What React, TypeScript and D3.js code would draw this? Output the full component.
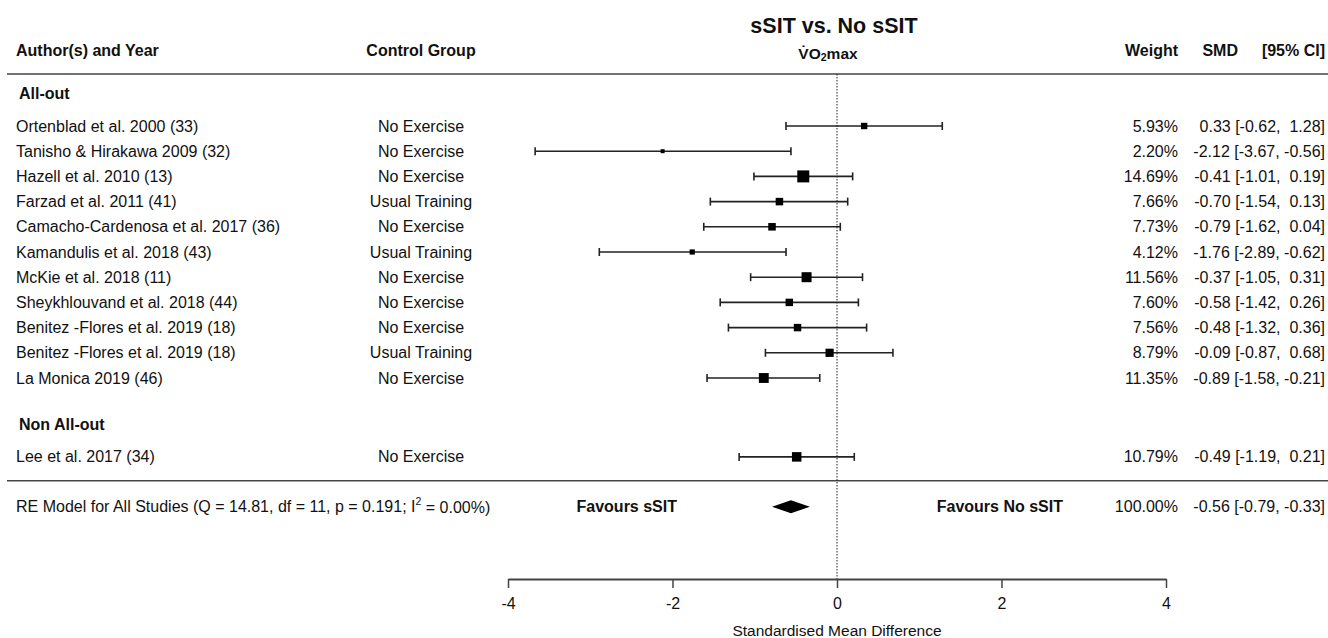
import { useEffect, useRef } from "react";
import { select, scaleLinear, axisBottom, format } from "d3";

const width = 1328;
const height = 638;

// study rows, top to bottom
const authors = [
  "Ortenblad et al. 2000 (33)",
  "Tanisho & Hirakawa 2009 (32)",
  "Hazell et al. 2010 (13)",
  "Farzad et al. 2011 (41)",
  "Camacho-Cardenosa et al. 2017 (36)",
  "Kamandulis et al. 2018 (43)",
  "McKie et al. 2018 (11)",
  "Sheykhlouvand et al. 2018 (44)",
  "Benitez -Flores et al. 2019 (18)",
  "Benitez -Flores et al. 2019 (18)",
  "La Monica 2019 (46)",
  "Lee et al. 2017 (34)",
];
const controls = [
  "No Exercise", "No Exercise", "No Exercise", "Usual Training", "No Exercise",
  "Usual Training", "No Exercise", "No Exercise", "No Exercise", "Usual Training",
  "No Exercise", "No Exercise",
];
const groupOf = [0, 0, 0, 0, 0, 0, 0, 0, 0, 0, 0, 1];
const groupNames = ["All-out", "Non All-out"];
const smd = [0.33, -2.12, -0.41, -0.7, -0.79, -1.76, -0.37, -0.58, -0.48, -0.09, -0.89, -0.49];
const lower = [-0.62, -3.67, -1.01, -1.54, -1.62, -2.89, -1.05, -1.42, -1.32, -0.87, -1.58, -1.19];
const upper = [1.28, -0.56, 0.19, 0.13, 0.04, -0.62, 0.31, 0.26, 0.36, 0.68, -0.21, 0.21];
const weights = [5.93, 2.2, 14.69, 7.66, 7.73, 4.12, 11.56, 7.6, 7.56, 8.79, 11.35, 10.79];

// pooled random-effects estimate
const pooled = { est: -0.56, lo: -0.79, hi: -0.33, weight: 100.0 };
const xTicks = [-4, -2, 0, 2, 4];

const font = "'Liberation Sans', Arial, sans-serif";
const ink = "#111";

// plain hyphen instead of d3's unicode minus
const f2 = (v: number) => format(".2f")(v).replace("−", "-");
const num = (v: number) => (v < 0 ? f2(v) : " " + f2(v));
const ciText = (e: number, l: number, u: number) => `${num(e)} [${num(l)}, ${num(u)}]`;

const x = scaleLinear().domain([-4, 4]).range([508, 1166]);
// row units -> pixels
const y = scaleLinear().domain([0, 1]).range([126, 151.2]);
const groupGap = 2.13;
const rowOf = (i: number) => i + groupOf[i] * groupGap;
const lastRow = rowOf(authors.length - 1);

const boxSize = scaleLinear()
  .domain([Math.min(...weights), Math.max(...weights)])
  .range([4, 12]);

const axisY = 579;
const headerY = 74;
const barColor = "#222";

const App = () => {
  const axisRef = useRef<SVGGElement>(null);

  useEffect(() => {
    const g = select(axisRef.current);
    g.selectAll("*").remove();
    g.call(axisBottom(x).tickValues(xTicks).tickSize(9).tickSizeOuter(0).tickFormat((d) => String(d)));
    g.select(".domain").attr("stroke", "#444").attr("stroke-width", 1.8);
    g.selectAll(".tick line").attr("stroke", "#444").attr("stroke-width", 1.5);
    g.selectAll(".tick text")
      .attr("font-family", font)
      .attr("font-size", 16)
      .attr("fill", ink)
      .attr("y", 19);
  }, []);

  const groupStarts = groupNames.map((_, gi) => groupOf.indexOf(gi));
  const sumY = y(lastRow + 1.98);

  return (
    <svg
      width={width}
      height={height}
      style={{ position: "fixed", left: 0, top: 0, background: "#fff" }}
      fontFamily={font}
    >
      {/* titles */}
      <text x={834} y={26} textAnchor="middle" dominantBaseline="central" fontSize={21.5} fontWeight="bold" fill={ink}>
        sSIT vs. No sSIT
      </text>
      <text x={828} y={53} textAnchor="middle" dominantBaseline="central" fontSize={15.5} fontWeight="bold" fill={ink}>
        V̇O<tspan fontSize={10.5} dy={4}>2</tspan>
        <tspan dy={-4}>max</tspan>
      </text>

      <text x={16} y={50} dominantBaseline="central" fontSize={16} fontWeight="bold" fill={ink}>Author(s) and Year</text>
      <text x={421} y={50} textAnchor="middle" dominantBaseline="central" fontSize={16} fontWeight="bold" fill={ink}>Control Group</text>
      <text x={1178} y={50} textAnchor="end" dominantBaseline="central" fontSize={16} fontWeight="bold" fill={ink}>Weight</text>
      <text x={1238} y={50} textAnchor="end" dominantBaseline="central" fontSize={16} fontWeight="bold" fill={ink}>SMD</text>
      <text x={1325} y={50} textAnchor="end" dominantBaseline="central" fontSize={16} fontWeight="bold" fill={ink}>[95% CI]</text>

      <line x1={7} x2={width} y1={headerY} y2={headerY} stroke="#444" strokeWidth={1.6} />
      <line x1={7} x2={width} y1={y(lastRow + 0.95)} y2={y(lastRow + 0.95)} stroke="#444" strokeWidth={1.6} />

      {/* reference line at zero */}
      <line x1={x(0)} x2={x(0)} y1={headerY} y2={axisY} stroke="#222" strokeWidth={1} strokeDasharray="1.5,1.5" />

      {/* group headers */}
      {groupNames.map((name, gi) => (
        <text key={name} x={19} y={y(rowOf(groupStarts[gi]) - 1.27)} dominantBaseline="central" fontSize={16} fontWeight="bold" fill={ink}>
          {name}
        </text>
      ))}

      {/* study rows */}
      {authors.map((a, i) => {
        const yy = y(rowOf(i));
        const s = boxSize(weights[i]);
        return (
          <g key={i}>
            <text x={16} y={yy} dominantBaseline="central" fontSize={16} fill={ink}>{a}</text>
            <text x={421} y={yy} textAnchor="middle" dominantBaseline="central" fontSize={16} fill={ink}>{controls[i]}</text>
            <line x1={x(lower[i])} x2={x(upper[i])} y1={yy} y2={yy} stroke={barColor} strokeWidth={1.6} />
            <line x1={x(lower[i])} x2={x(lower[i])} y1={yy - 4} y2={yy + 4} stroke={barColor} strokeWidth={1.6} />
            <line x1={x(upper[i])} x2={x(upper[i])} y1={yy - 4} y2={yy + 4} stroke={barColor} strokeWidth={1.6} />
            <rect x={x(smd[i]) - s / 2} y={yy - s / 2} width={s} height={s} fill="#000" />
            <text x={1178} y={yy} textAnchor="end" dominantBaseline="central" fontSize={16} fill={ink}>
              {f2(weights[i])}%
            </text>
            <text x={1325} y={yy} textAnchor="end" dominantBaseline="central" fontSize={16} fill={ink} style={{ whiteSpace: "pre" }}>
              {ciText(smd[i], lower[i], upper[i])}
            </text>
          </g>
        );
      })}

      {/* summary */}
      <text x={16} y={sumY} dominantBaseline="central" fontSize={16} fill={ink}>
        RE Model for All Studies (Q = 14.81, df = 11, p = 0.191; I<tspan fontSize={10.5} dy={-6}>2</tspan>
        <tspan dy={6}> = 0.00%)</tspan>
      </text>
      <text x={677} y={sumY} textAnchor="end" dominantBaseline="central" fontSize={16} fontWeight="bold" fill={ink}>Favours sSIT</text>
      <text x={1063} y={sumY} textAnchor="end" dominantBaseline="central" fontSize={16} fontWeight="bold" fill={ink}>Favours No sSIT</text>
      <polygon
        points={[
          [x(pooled.lo), sumY],
          [x(pooled.est), sumY - 6.5],
          [x(pooled.hi), sumY],
          [x(pooled.est), sumY + 6.5],
        ].map((p) => p.join(",")).join(" ")}
        fill="#000"
      />
      <text x={1178} y={sumY} textAnchor="end" dominantBaseline="central" fontSize={16} fill={ink}>
        {f2(pooled.weight)}%
      </text>
      <text x={1325} y={sumY} textAnchor="end" dominantBaseline="central" fontSize={16} fill={ink} style={{ whiteSpace: "pre" }}>
        {ciText(pooled.est, pooled.lo, pooled.hi)}
      </text>

      {/* x axis */}
      <g ref={axisRef} transform={`translate(0,${axisY})`} />
      <text x={x(0)} y={630} textAnchor="middle" dominantBaseline="central" fontSize={15.5} fill={ink}>
        Standardised Mean Difference
      </text>
    </svg>
  );
};

export default App;
